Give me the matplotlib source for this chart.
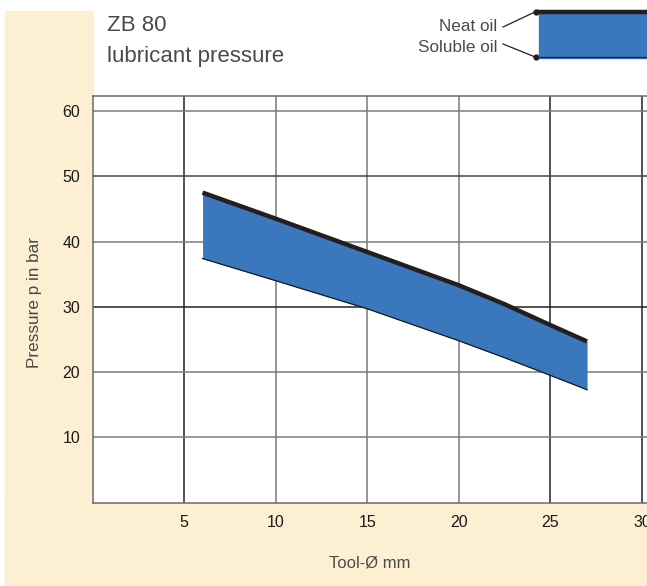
import matplotlib
matplotlib.use("Agg")
import matplotlib.pyplot as plt
from matplotlib.patches import Rectangle
from matplotlib.lines import Line2D

# data
tool_dia = [6, 10, 15, 20, 22.5, 25, 27]
neat_oil = [47.5, 43.5, 38.4, 33.3, 30.4, 27.2, 24.7]
soluble_oil = [37.4, 34.0, 29.7, 24.8, 22.2, 19.5, 17.3]

x_ticks = [5, 10, 15, 20, 25, 30]
y_ticks = [10, 20, 30, 40, 50, 60]

title1 = "ZB 80"
title2 = "lubricant pressure"
xlabel = "Tool-Ø mm"
ylabel = "Pressure p in bar"

W, H = 647, 586
BEIGE = "#fdf0d2"
BLUE = "#3a77bd"
TXT = "#4a4a4a"

plt.rcParams['font.family'] = ['Liberation Sans', 'DejaVu Sans']

fig = plt.figure(figsize=(W / 100, H / 100), dpi=100)
fig.patch.set_facecolor("white")


def fx(x):
    return x / W


def fy(y):
    return 1 - y / H


# beige frame strips (left and bottom), kept behind the axes
fig.patches.append(Rectangle((fx(5), fy(586)), fx(93) - fx(5), fy(11) - fy(586),
                             transform=fig.transFigure, color=BEIGE, zorder=-2))
fig.patches.append(Rectangle((fx(5), fy(586)), 1 - fx(5), fy(503) - fy(586),
                             transform=fig.transFigure, color=BEIGE, zorder=-2))

left, top, bottom = 92.7, 95.7, 502.7
ax = fig.add_axes([fx(left), fy(bottom), 1 - fx(left), fy(top) - fy(bottom)])
ax.set_facecolor("white")
ax.set_xlim(0, 30 + 5 * (W - 642) / 91.5)
ax.set_ylim(0, 60 + (111 - top) / 6.53)

# grid lines, some print darker than others
vcols = ["#222222", "#7a7a7a", "#7a7a7a", "#7a7a7a", "#222222", "#222222"]
hcols = ["#7a7a7a", "#7a7a7a", "#222222", "#7a7a7a", "#444444", "#7a7a7a"]
for xv, c in zip(x_ticks, vcols):
    ax.axvline(xv, color=c, lw=1.1, zorder=1)
for yv, c in zip(y_ticks, hcols):
    ax.axhline(yv, color=c, lw=1.1, zorder=1)

ax.fill_between(tool_dia, soluble_oil, neat_oil, color=BLUE, lw=0, zorder=2)
ax.plot(tool_dia, soluble_oil, color="#1a1a1a", lw=0.9, zorder=3)
ax.plot(tool_dia, neat_oil, color="#231f20", lw=3.2, zorder=3,
        solid_capstyle="butt", solid_joinstyle="round")

for s in ["left", "bottom", "top"]:
    ax.spines[s].set_color("#6a6a6a")
    ax.spines[s].set_linewidth(1.1)
ax.spines["right"].set_visible(False)

ax.set_xticks(x_ticks)
ax.set_yticks(y_ticks)
ax.tick_params(length=0, labelsize=11.5, labelcolor="#1a1a1a")
ax.tick_params(axis="x", pad=9)
ax.tick_params(axis="y", pad=9)

fig.text(fx(370), fy(563), xlabel, ha="center", va="center",
         fontsize=12, color=TXT)
fig.text(fx(35), fy(302), ylabel, ha="center", va="center", rotation=90,
         fontsize=12.3, color=TXT)

fig.text(fx(107), fy(31), title1, ha="left", va="baseline", fontsize=16, color=TXT)
fig.text(fx(107), fy(62), title2, ha="left", va="baseline", fontsize=16, color=TXT)

# legend swatch at top right
fig.patches.append(Rectangle((fx(539), fy(57.5)), 1 - fx(539), fy(14) - fy(57.5),
                             transform=fig.transFigure, color=BLUE, zorder=2))
fig.lines.append(Line2D([fx(539), 1], [fy(11.5), fy(11.5)], transform=fig.transFigure,
                        color="#231f20", lw=3.2, zorder=3))
fig.lines.append(Line2D([fx(539), 1], [fy(57.3), fy(57.3)], transform=fig.transFigure,
                        color="#231f20", lw=0.9, zorder=3))
fig.lines.append(Line2D([fx(503), fx(536)], [fy(27), fy(11.5)], transform=fig.transFigure,
                        color="#231f20", lw=0.9))
fig.lines.append(Line2D([fx(503), fx(536)], [fy(44), fy(57.3)], transform=fig.transFigure,
                        color="#231f20", lw=0.9))
fig.lines.append(Line2D([fx(536), fx(536)], [fy(11.5), fy(57.3)], transform=fig.transFigure,
                        color="#231f20", lw=0, marker="o", markersize=3.5))
fig.text(fx(497), fy(31), "Neat oil", ha="right", va="baseline", fontsize=12.3, color=TXT)
fig.text(fx(497), fy(52), "Soluble oil", ha="right", va="baseline", fontsize=12.3, color=TXT)

fig.savefig("out.png", dpi=100, facecolor="white")
